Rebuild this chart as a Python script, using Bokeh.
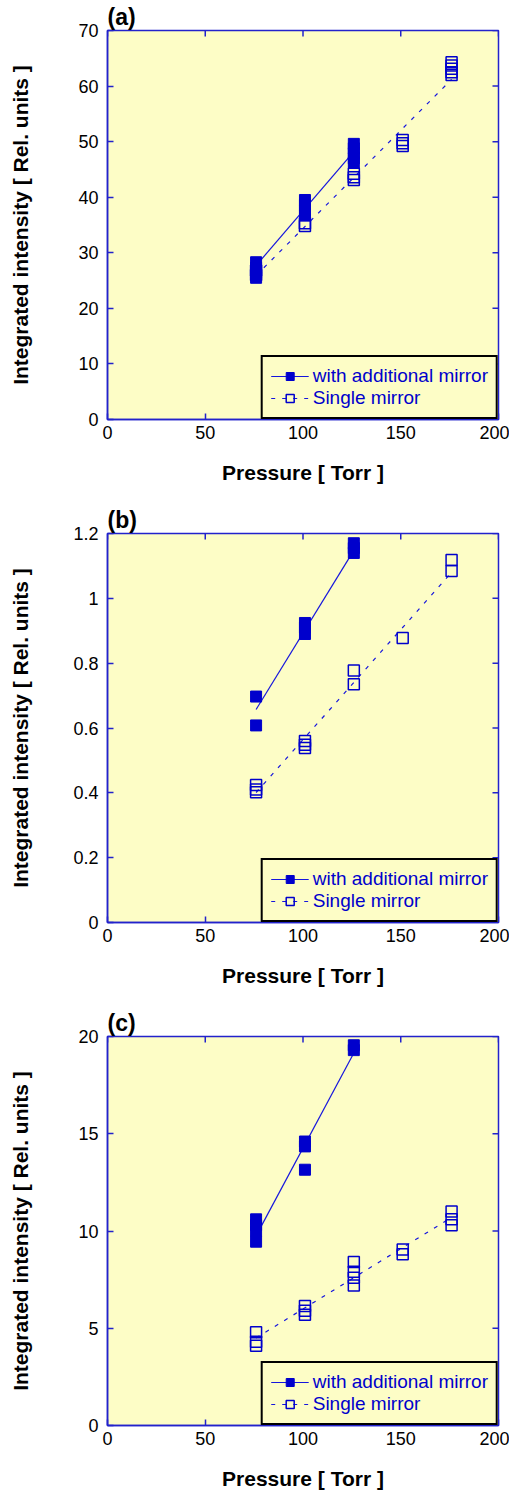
import math
from bokeh.plotting import figure
from bokeh.models import Range1d, FixedTicker, Legend, LegendItem
from bokeh.layouts import column
from bokeh.embed import file_html
from bokeh.resources import INLINE

# ---------------- data ----------------
x_ticks = [0, 50, 100, 150, 200]
x_tick_labels = ["0", "50", "100", "150", "200"]

# panel (a)
a_mirror_x = [76, 76, 76, 76, 101, 101, 101, 101, 126, 126, 126, 126, 126]
a_mirror_y = [28.3, 27.3, 26.4, 25.5, 39.5, 38.6, 37.6, 36.7, 49.6, 48.8, 47.9, 47.0, 46.2]
a_single_x = [76, 76, 101, 101, 126, 126, 126, 151, 151, 151, 176, 176, 176, 176, 176]
a_single_y = [26.8, 26.0, 35.3, 34.8, 44.2, 43.6, 43.1, 50.3, 49.7, 49.2, 64.3, 63.7, 63.1, 62.5, 62.0]
a_fit_mirror_x = [76, 126]
a_fit_mirror_y = [27.7, 48.2]
a_fit_single_x = [76, 176]
a_fit_single_y = [25.9, 61.2]
a_y_ticks = [0, 10, 20, 30, 40, 50, 60, 70]
a_y_tick_labels = ["0", "10", "20", "30", "40", "50", "60", "70"]

# panel (b)
b_mirror_x = [76, 76, 101, 101, 101, 126, 126, 126]
b_mirror_y = [0.697, 0.608, 0.924, 0.910, 0.890, 1.170, 1.155, 1.140]
b_single_x = [76, 76, 76, 101, 101, 101, 126, 126, 151, 176, 176]
b_single_y = [0.424, 0.410, 0.402, 0.560, 0.548, 0.538, 0.777, 0.735, 0.878, 1.118, 1.084]
b_fit_mirror_x = [76, 126]
b_fit_mirror_y = [0.657, 1.148]
b_fit_single_x = [76, 176]
b_fit_single_y = [0.401, 1.080]
b_y_ticks = [0, 0.2, 0.4, 0.6, 0.8, 1, 1.2]
b_y_tick_labels = ["0", "0.2", "0.4", "0.6", "0.8", "1", "1.2"]

# panel (c)
c_mirror_x = [76, 76, 76, 76, 101, 101, 101, 126, 126]
c_mirror_y = [10.6, 10.3, 10.0, 9.45, 14.6, 14.35, 13.15, 19.55, 19.3]
c_single_x = [76, 76, 76, 101, 101, 101, 126, 126, 126, 126, 151, 151, 176, 176, 176]
c_single_y = [4.8, 4.3, 4.1, 6.15, 5.9, 5.7, 8.4, 7.9, 7.6, 7.2, 9.05, 8.8, 11.0, 10.6, 10.3]
c_fit_mirror_x = [76, 126]
c_fit_mirror_y = [9.75, 19.15]
c_fit_single_x = [76, 176]
c_fit_single_y = [4.5, 10.7]
c_y_ticks = [0, 5, 10, 15, 20]
c_y_tick_labels = ["0", "5", "10", "15", "20"]

panels = [
    dict(tag="(a)", mx=a_mirror_x, my=a_mirror_y, sx=a_single_x, sy=a_single_y,
         fmx=a_fit_mirror_x, fmy=a_fit_mirror_y, fsx=a_fit_single_x, fsy=a_fit_single_y,
         yt=a_y_ticks, ytl=a_y_tick_labels, ymax=70, standoff=43, top=30, bottom=78),
    dict(tag="(b)", mx=b_mirror_x, my=b_mirror_y, sx=b_single_x, sy=b_single_y,
         fmx=b_fit_mirror_x, fmy=b_fit_mirror_y, fsx=b_fit_single_x, fsy=b_fit_single_y,
         yt=b_y_ticks, ytl=b_y_tick_labels, ymax=1.2, standoff=38, top=36, bottom=78),
    dict(tag="(c)", mx=c_mirror_x, my=c_mirror_y, sx=c_single_x, sy=c_single_y,
         fmx=c_fit_mirror_x, fmy=c_fit_mirror_y, fsx=c_fit_single_x, fsy=c_fit_single_y,
         yt=c_y_ticks, ytl=c_y_tick_labels, ymax=20, standoff=43, top=36, bottom=70),
]

BG = "#FDFDC6"
AX = "#2222CC"
MK = "#0000CC"
LN = "#1515DD"
FONT = "Liberation Sans"

figs = []
for pn in panels:
    p = figure(frame_width=391, frame_height=389,
               min_border_left=107, min_border_right=11,
               min_border_top=pn["top"], min_border_bottom=pn["bottom"],
               x_range=Range1d(0, 200), y_range=Range1d(0, pn["ymax"]),
               output_backend="svg", toolbar_location=None,
               background_fill_color=BG, border_fill_color="white",
               outline_line_color=AX, outline_line_width=1.5)
    p.grid.visible = False

    # panel tag as the title, left aligned above the frame
    p.title.text = pn["tag"]
    p.title.align = "left"
    p.title.offset = 0
    p.title.standoff = 1
    p.title.text_font = FONT
    p.title.text_font_size = "23px"
    p.title.text_font_style = "bold"
    p.title.text_color = "black"

    for ax in (p.xaxis[0], p.yaxis[0]):
        ax.axis_line_color = AX
        ax.axis_line_width = 1.5
        ax.major_tick_line_color = AX
        ax.major_tick_line_width = 1.5
        ax.major_tick_in = 6
        ax.major_tick_out = 0
        ax.minor_tick_line_color = None
        ax.major_label_text_font = FONT
        ax.major_label_text_font_size = "18px"
        ax.major_label_text_color = "black"
        ax.axis_label_text_font = FONT
        ax.axis_label_text_font_size = "21px"
        ax.axis_label_text_font_style = "bold"
        ax.axis_label_text_color = "black"
    p.xaxis[0].ticker = FixedTicker(ticks=x_ticks)
    p.xaxis[0].major_label_overrides = {t: l for t, l in zip(x_ticks, x_tick_labels)}
    p.xaxis[0].major_label_standoff = 6
    p.xaxis[0].axis_label = "Pressure [ Torr ]"
    p.xaxis[0].axis_label_standoff = 19
    p.yaxis[0].ticker = FixedTicker(ticks=pn["yt"])
    p.yaxis[0].major_label_overrides = {t: l for t, l in zip(pn["yt"], pn["ytl"])}
    p.yaxis[0].major_label_standoff = 9
    p.yaxis[0].axis_label = "Integrated intensity [ Rel. units ]"
    p.yaxis[0].axis_label_standoff = pn["standoff"]

    # inward ticks on top and right edges (half of each dash is clipped by the frame)
    p.scatter(x_ticks, [pn["ymax"]] * len(x_ticks), marker="dash", size=12,
              angle=math.pi / 2, line_color=AX, line_width=1.5)
    p.scatter([200] * len(pn["yt"]), pn["yt"], marker="dash", size=12,
              line_color=AX, line_width=1.5)

    # data
    l_single = p.line(pn["fsx"], pn["fsy"], line_color=LN, line_width=1.2, line_dash="4 7")
    s_single = p.scatter(pn["sx"], pn["sy"], marker="square", size=11,
                         fill_color=None, line_color=MK, line_width=1.5)
    l_mirror = p.line(pn["fmx"], pn["fmy"], line_color=LN, line_width=1.2)
    s_mirror = p.scatter(pn["mx"], pn["my"], marker="square", size=11,
                         fill_color=MK, line_color=MK, line_width=1)

    legend = Legend(items=[
        LegendItem(label="with additional mirror", renderers=[l_mirror, s_mirror]),
        LegendItem(label="Single mirror", renderers=[l_single, s_single]),
    ], location="bottom_right", margin=0, padding=8, spacing=0,
        glyph_width=38, glyph_height=20, label_height=20, label_standoff=4,
        label_text_font=FONT, label_text_font_size="19px", label_text_color=MK,
        border_line_color="black", border_line_width=2, border_line_alpha=1.0,
        background_fill_color=BG, background_fill_alpha=1.0)
    p.add_layout(legend, "center")

    figs.append(p)

layout = column(*figs, spacing=0)
open("out.html", "w").write(file_html(layout, INLINE))
